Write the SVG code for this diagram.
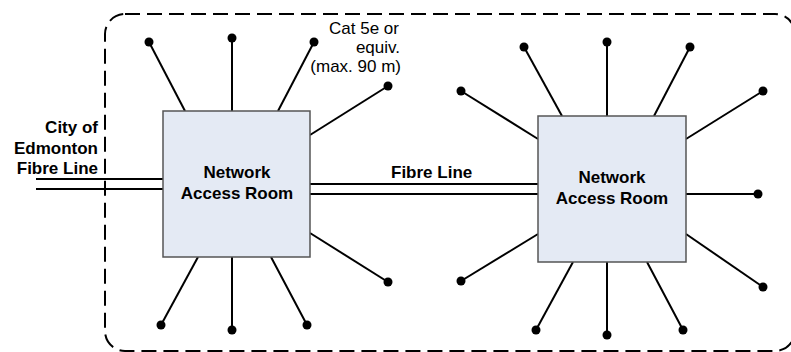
<svg xmlns="http://www.w3.org/2000/svg" width="791" height="352" viewBox="0 0 791 352">
<style>
.bnd{fill:none;stroke:#000;stroke-width:2;stroke-dasharray:15 7}
.box{fill:#E4EAF4;stroke:#555;stroke-width:1.5}
.sp{stroke:#000;stroke-width:2;fill:none}
.dot{fill:#000}
.lbl{font-family:"Liberation Sans",Arial,sans-serif;font-weight:bold;font-size:17px;fill:#000}
.note{font-family:"Liberation Sans",Arial,sans-serif;font-size:17px;fill:#000}
</style>
<rect width="791" height="352" fill="#fff"/>
<rect class="bnd" x="105" y="14" width="690" height="337" rx="20" ry="20"/>
<g id="connectors">
  <line class="sp" x1="36" y1="179" x2="163" y2="179"/>
  <line class="sp" x1="36" y1="189" x2="163" y2="189"/>
  <line class="sp" x1="310" y1="184" x2="538" y2="184"/>
  <line class="sp" x1="310" y1="194" x2="538" y2="194"/>
  <line class="sp" x1="185" y1="111" x2="149" y2="42"/><circle class="dot" cx="149" cy="42" r="4.5"/>
  <line class="sp" x1="232" y1="111" x2="232" y2="38"/><circle class="dot" cx="232" cy="38" r="4.5"/>
  <line class="sp" x1="278" y1="111" x2="314" y2="42"/><circle class="dot" cx="314" cy="42" r="4.5"/>
  <line class="sp" x1="310" y1="135" x2="388" y2="86"/><circle class="dot" cx="388" cy="86" r="4.5"/>
  <line class="sp" x1="310" y1="233" x2="388" y2="282"/><circle class="dot" cx="388" cy="282" r="4.5"/>
  <line class="sp" x1="198" y1="257" x2="161" y2="325"/><circle class="dot" cx="161" cy="325" r="4.5"/>
  <line class="sp" x1="232" y1="257" x2="232" y2="330"/><circle class="dot" cx="232" cy="330" r="4.5"/>
  <line class="sp" x1="271" y1="257" x2="307" y2="325"/><circle class="dot" cx="307" cy="325" r="4.5"/>
  <line class="sp" x1="562" y1="116" x2="524" y2="47"/><circle class="dot" cx="524" cy="47" r="4.5"/>
  <line class="sp" x1="607" y1="116" x2="607" y2="42"/><circle class="dot" cx="607" cy="42" r="4.5"/>
  <line class="sp" x1="654" y1="116" x2="690" y2="47"/><circle class="dot" cx="690" cy="47" r="4.5"/>
  <line class="sp" x1="538" y1="139" x2="461" y2="91"/><circle class="dot" cx="461" cy="91" r="4.5"/>
  <line class="sp" x1="686" y1="139" x2="763" y2="91"/><circle class="dot" cx="763" cy="91" r="4.5"/>
  <line class="sp" x1="686" y1="194" x2="758" y2="194"/><circle class="dot" cx="758" cy="194" r="4.5"/>
  <line class="sp" x1="538" y1="234" x2="461" y2="281"/><circle class="dot" cx="461" cy="281" r="4.5"/>
  <line class="sp" x1="686" y1="234" x2="763" y2="287"/><circle class="dot" cx="763" cy="287" r="4.5"/>
  <line class="sp" x1="573" y1="262" x2="536" y2="330"/><circle class="dot" cx="536" cy="330" r="4.5"/>
  <line class="sp" x1="607" y1="262" x2="607" y2="335"/><circle class="dot" cx="607" cy="335" r="4.5"/>
  <line class="sp" x1="647" y1="262" x2="683" y2="330"/><circle class="dot" cx="683" cy="330" r="4.5"/>
</g>
<g id="room1">
  <rect class="box" x="163" y="111" width="147" height="146"/>
  <text class="lbl" x="237" y="178" text-anchor="middle">Network</text>
  <text class="lbl" x="237" y="199" text-anchor="middle">Access Room</text>
</g>
<g id="room2">
  <rect class="box" x="538" y="116" width="148" height="146"/>
  <text class="lbl" x="612" y="183" text-anchor="middle">Network</text>
  <text class="lbl" x="612" y="204" text-anchor="middle">Access Room</text>
</g>
<g id="labels">
  <text class="lbl" x="98" y="133" text-anchor="end">City of</text>
  <text class="lbl" x="98" y="154" text-anchor="end">Edmonton</text>
  <text class="lbl" x="98" y="174" text-anchor="end">Fibre Line</text>
  <text class="lbl" x="391" y="178">Fibre Line</text>
  <text class="note" x="399" y="34" text-anchor="end">Cat 5e or</text>
  <text class="note" x="400" y="53" text-anchor="end">equiv.</text>
  <text class="note" x="401" y="72" text-anchor="end">(max. 90 m)</text>
</g>
</svg>
